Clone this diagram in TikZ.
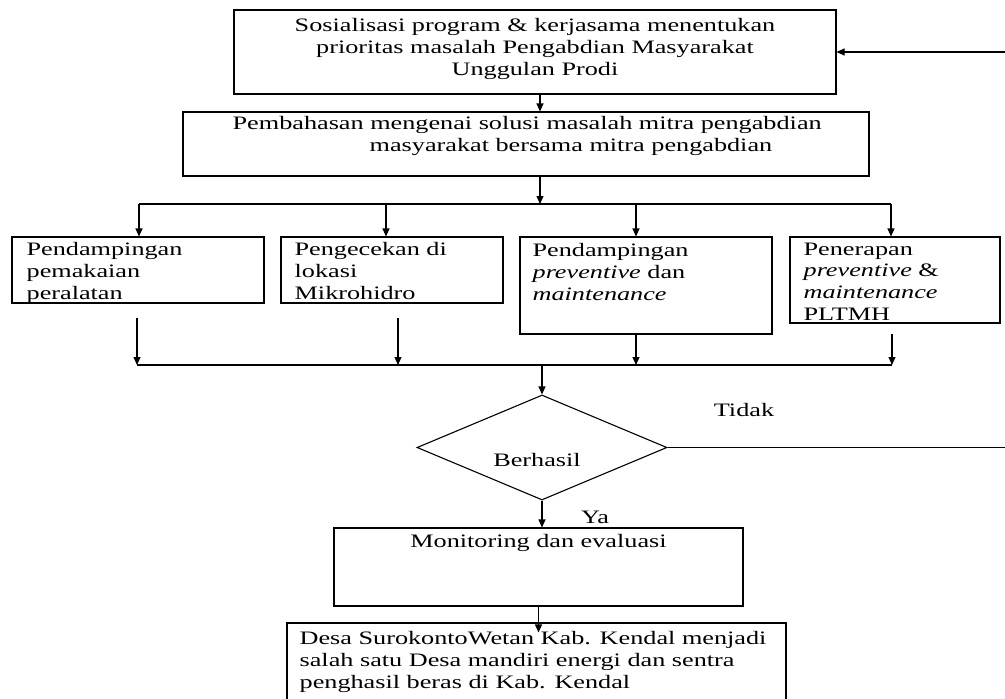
\documentclass[tikz,border=0pt]{standalone}
\usepackage{fontspec}
\setmainfont{Liberation Serif}[FakeStretch=1.38]
\usepackage{tikz}
\usetikzlibrary{shapes.geometric,arrows.meta}

\begin{document}
\begin{tikzpicture}[x=1pt, y=-1pt,
    font=\fontsize{19}{21.7}\selectfont,
    kotak/.style={draw, line width=1.1pt, inner sep=0pt},
    isi/.style={inner sep=0pt, align=left},
    panah/.style={line width=1.1pt, -{Triangle[length=8pt,width=7pt]}},
    garis/.style={line width=1.1pt}]
  \useasboundingbox (0,0) rectangle (1005,699);
  \clip (0,0) rectangle (1005,699);

  \node[kotak, minimum width=602pt, minimum height=84pt,
    label={[isi, align=center, anchor=north, yshift=-9pt]north:Sosialisasi program \& kerjasama menentukan\\prioritas masalah Pengabdian Masyarakat\\Unggulan Prodi}] (sosial) at (535,52) {};
  \node[kotak, minimum width=686pt, minimum height=64pt,
    label={[isi, anchor=north west, xshift=50pt, yshift=-5pt]north west:Pembahasan mengenai solusi masalah mitra pengabdian\\\hspace*{137pt}masyarakat bersama mitra pengabdian}] (bahas) at (526,144) {};

  \node[kotak, minimum width=252pt, minimum height=66pt,
    label={[isi, anchor=north west, xshift=15pt, yshift=-6pt]north west:Pendampingan\\pemakaian\\peralatan}] (pA) at (138,270) {};
  \node[kotak, minimum width=222pt, minimum height=66pt,
    label={[isi, anchor=north west, xshift=14pt, yshift=-6pt]north west:Pengecekan di\\lokasi\\Mikrohidro}] (pB) at (392,270) {};
  \node[kotak, minimum width=252pt, minimum height=97pt,
    label={[isi, anchor=north west, xshift=13pt, yshift=-7pt]north west:Pendampingan\\\textit{preventive} dan\\\textit{maintenance}}] (pC) at (646,285.5) {};
  \node[kotak, minimum width=210pt, minimum height=86pt,
    label={[isi, anchor=north west, xshift=14pt, yshift=-6pt]north west:Penerapan\\\textit{preventive} \&\\\textit{maintenance}\\PLTMH}] (pD) at (895,280) {};

  \node[kotak, diamond, minimum width=250pt, minimum height=105pt,
    label={[anchor=center, xshift=-5pt, yshift=-12pt]center:Berhasil}] (keputusan) at (542,447.5) {};
  \node (tidak) at (744,410) {Tidak};
  \node (ya) at (595,517) {Ya};

  \node[kotak, minimum width=409pt, minimum height=78pt,
    label={[isi, anchor=north, yshift=-7pt]north:Monitoring dan evaluasi}] (mon) at (538.5,567) {};
  \node[kotak, minimum width=499pt, minimum height=90pt,
    label={[isi, anchor=north west, xshift=13pt, yshift=-9pt]north west:Desa SurokontoWetan Kab. Kendal menjadi\\salah satu Desa mandiri energi dan sentra\\penghasil beras di Kab. Kendal}] (akhir) at (536.5,668) {};

  \coordinate (tengah) at (540,204);
  \coordinate (kA) at (139,204);
  \coordinate (kB) at (386,204);
  \coordinate (kC) at (636,204);
  \coordinate (kD) at (891,204);
  \coordinate (mA) at (137,365);
  \coordinate (mB) at (398,365);
  \coordinate (mC) at (636,365);
  \coordinate (mD) at (892,365);
  \coordinate (gabung) at (542,365);
  \coordinate (balik) at (1015,0);

  \draw[panah] (sosial.south -| tengah) -- (bahas.north -| tengah);
  \draw[panah] (bahas.south -| tengah) -- (tengah);
  \draw[garis] (kA) -- (kD);
  \draw[panah] (kA) -- (pA.north -| kA);
  \draw[panah] (kB) -- (pB.north -| kB);
  \draw[panah] (kC) -- (pC.north -| kC);
  \draw[panah] (kD) -- (pD.north -| kD);

  \draw[panah, shorten <=14pt] (pA.south -| mA) -- (mA);
  \draw[panah, shorten <=14pt] (pB.south -| mB) -- (mB);
  \draw[panah] (pC.south -| mC) -- (mC);
  \draw[panah, shorten <=10pt] (pD.south -| mD) -- (mD);
  \draw[garis] (mA) -- (mD);

  \draw[panah] (gabung) -- (keputusan.north);
  \draw[panah] (keputusan.south) -- (keputusan.south |- mon.north);
  \draw[panah, shorten >=-10pt] (mon.south) -- (mon.south |- akhir.north);
  \draw[panah] (keputusan.east) -- (keputusan.east -| balik) |- (sosial.east);
\end{tikzpicture}
\end{document}
